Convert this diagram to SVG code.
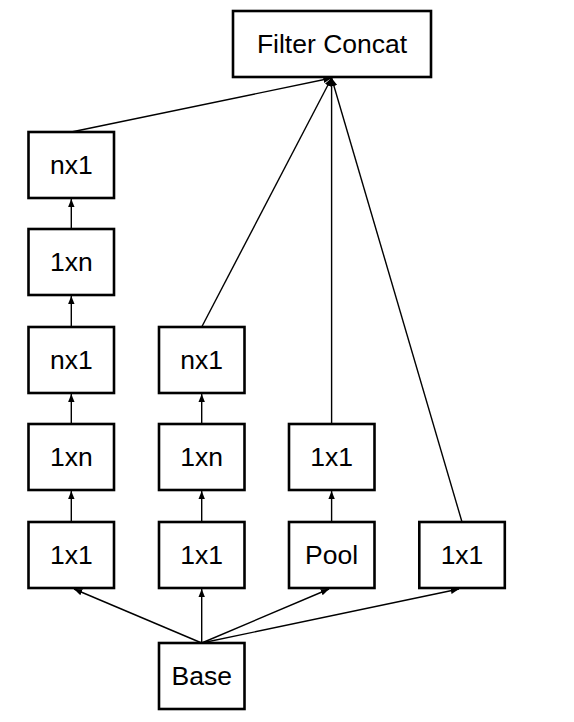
<svg xmlns="http://www.w3.org/2000/svg" width="574" height="722" viewBox="0 0 574 722">
<style>
.box{fill:#fff;stroke:#000;stroke-width:2.6}
.lbl{font-family:"Liberation Sans",Arial,sans-serif;font-size:26.5px;text-anchor:middle;fill:#000}
.edge{stroke:#000;stroke-width:1.4;fill:none;marker-end:url(#ah)}
</style>
<defs>
<marker id="ah" viewBox="0 0 10 8" refX="10" refY="4" markerWidth="8.5" markerHeight="6.6" markerUnits="userSpaceOnUse" orient="auto">
<path d="M0,0 L10,4 L0,8 z" fill="#000"/>
</marker>
</defs>
<rect width="574" height="722" fill="#fff"/>
<g id="connectors">
<line class="edge" x1="71.3" y1="132" x2="331.6" y2="78"/>
<line class="edge" x1="201.7" y1="327" x2="331.6" y2="78"/>
<line class="edge" x1="331.6" y1="424" x2="331.6" y2="78"/>
<line class="edge" x1="462" y1="522" x2="331.6" y2="78"/>
<line class="edge" x1="71.3" y1="229" x2="71.3" y2="199"/>
<line class="edge" x1="71.3" y1="327" x2="71.3" y2="296"/>
<line class="edge" x1="71.3" y1="424" x2="71.3" y2="394"/>
<line class="edge" x1="71.3" y1="522" x2="71.3" y2="491"/>
<line class="edge" x1="201.7" y1="424" x2="201.7" y2="394"/>
<line class="edge" x1="201.7" y1="522" x2="201.7" y2="491"/>
<line class="edge" x1="331.6" y1="522" x2="331.6" y2="491"/>
<line class="edge" x1="201.7" y1="643" x2="74" y2="589"/>
<line class="edge" x1="201.7" y1="643" x2="201.7" y2="589"/>
<line class="edge" x1="201.7" y1="643" x2="329" y2="589"/>
<line class="edge" x1="201.7" y1="643" x2="459" y2="589"/>
</g>
<g id="concat"><rect class="box" x="233" y="11" width="198" height="66"/><text class="lbl" x="332" y="53">Filter Concat</text></g>
<g id="c1r1"><rect class="box" x="28.5" y="132" width="85.5" height="66"/><text class="lbl" x="71.3" y="174">nx1</text></g>
<g id="c1r2"><rect class="box" x="28.5" y="229" width="85.5" height="66"/><text class="lbl" x="71.3" y="271">1xn</text></g>
<g id="c1r3"><rect class="box" x="28.5" y="327" width="85.5" height="66"/><text class="lbl" x="71.3" y="369">nx1</text></g>
<g id="c1r4"><rect class="box" x="28.5" y="424" width="85.5" height="66"/><text class="lbl" x="71.3" y="466">1xn</text></g>
<g id="c1r5"><rect class="box" x="28.5" y="522" width="85.5" height="66"/><text class="lbl" x="71.3" y="564">1x1</text></g>
<g id="c2r3"><rect class="box" x="159" y="327" width="85.5" height="66"/><text class="lbl" x="201.7" y="369">nx1</text></g>
<g id="c2r4"><rect class="box" x="159" y="424" width="85.5" height="66"/><text class="lbl" x="201.7" y="466">1xn</text></g>
<g id="c2r5"><rect class="box" x="159" y="522" width="85.5" height="66"/><text class="lbl" x="201.7" y="564">1x1</text></g>
<g id="c3r4"><rect class="box" x="289" y="424" width="85.5" height="66"/><text class="lbl" x="331.6" y="466">1x1</text></g>
<g id="c3r5"><rect class="box" x="289" y="522" width="85.5" height="66"/><text class="lbl" x="331.6" y="564">Pool</text></g>
<g id="c4r5"><rect class="box" x="419.3" y="522" width="85.5" height="66"/><text class="lbl" x="462" y="564">1x1</text></g>
<g id="base"><rect class="box" x="159" y="643" width="85.5" height="66"/><text class="lbl" x="201.7" y="685">Base</text></g>
</svg>
